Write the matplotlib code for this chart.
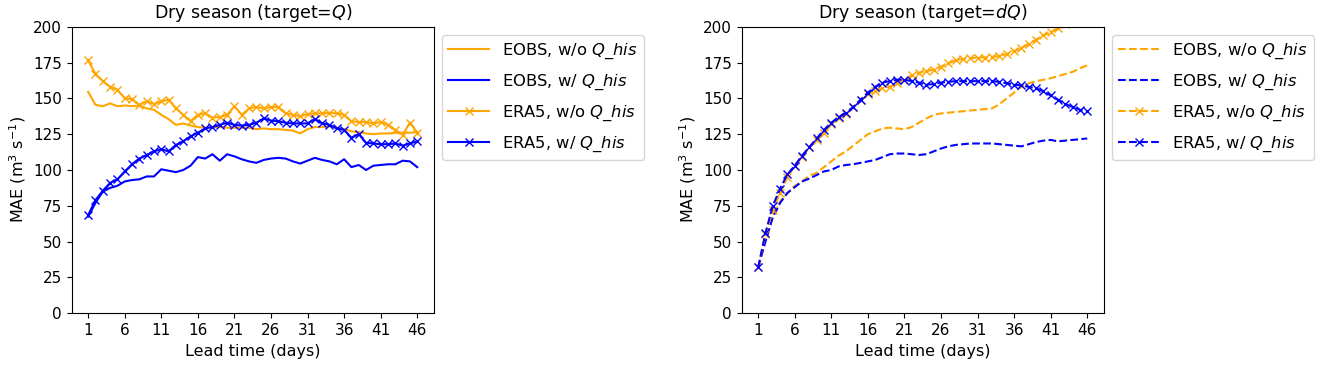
import numpy as np
import matplotlib
matplotlib.use("Agg")
import matplotlib.pyplot as plt

days = np.arange(1, 47)

# left panel: target = Q
q_eobs_wo = [154.5, 145.5, 144.5, 146.5, 144.5, 145, 144.5, 145, 143, 142,
             138.5, 135.5, 131.5, 132.5, 131, 130, 129.5, 130, 130, 129.5,
             129.5, 129.5, 129.5, 128.5, 129, 128.5, 128.5, 128, 127.5, 125.5,
             128.5, 130, 130, 130.5, 129.5, 128.5, 127, 126.5, 125.5, 125,
             125.5, 125.5, 126, 126, 126, 126.5]
q_eobs_w = [67.5, 77, 85, 87.5, 89, 92, 93, 93.5, 95.5, 95.5,
            100.5, 99.5, 98.5, 100, 103, 109, 108, 111, 106.5, 111,
            109.5, 107.5, 106, 105, 107, 108, 108.5, 108, 106, 104.5,
            106.5, 108.5, 107, 106, 104, 107.5, 102, 103.5, 100, 103,
            103.5, 104, 104, 106.5, 106, 102]
q_era5_wo = [176.5, 167, 162, 158, 156, 150, 149.5, 145.5, 148, 146,
             148, 149, 143, 138.5, 134, 138.5, 139.5, 136.5, 137, 138.5,
             144.5, 138.5, 143, 144, 143, 144, 144, 139.5, 138.5, 137.5,
             139, 139.5, 139.5, 140, 139.5, 138.5, 134, 133.5, 133.5, 132.5,
             133.5, 131.5, 128, 124.5, 133, 126]
q_era5_w = [68.5, 79, 85.5, 91, 93.5, 99, 104, 108, 110.5, 113,
            114.5, 113, 117.5, 120, 123.5, 126, 129, 130, 131.5, 133,
            131.5, 131, 131.5, 133, 136, 134.5, 134, 133, 132.5, 132.5,
            132.5, 135.5, 132.5, 131.5, 129, 128, 122.5, 125, 119, 118.5,
            118, 118, 118.5, 117, 118.5, 120]

# right panel: target = dQ
dq_eobs_wo = [32, 51, 68, 78, 84, 89, 92, 96, 98, 102,
              106, 110, 113, 117, 121, 125, 127, 129, 129.5, 129,
              128.5, 130, 133, 136, 138.5, 139.5, 140, 140.5, 141, 141.5,
              142, 142.5, 143, 146, 150, 154, 158, 160.5, 162, 163,
              164, 165.5, 167, 168.5, 171, 173]
dq_eobs_w = [32, 50, 67, 77, 84, 88, 92, 94, 96.5, 99,
             100, 102.5, 103.5, 104, 105, 106, 107, 109, 111, 111.5,
             111.5, 111, 110.5, 111, 113, 115, 116.5, 117.5, 118, 118.5,
             118.5, 118.5, 118.5, 118, 117.5, 117, 116.5, 118, 119.5, 120.5,
             121, 120, 120.5, 121, 121.5, 122]
dq_era5_wo = [32, 55, 72, 84, 95, 103, 109, 116, 121, 126,
              132, 136, 139, 144, 149, 153, 155, 157, 158, 161,
              163, 166, 168, 169, 170, 172, 174.5, 176.5, 177.5, 178,
              178.5, 178.5, 179, 179.5, 181, 183, 185, 188, 191, 194,
              196, 199, 202, 205, 208, 211]
dq_era5_w = [32, 56, 75, 87, 97, 103, 110, 116, 122, 128,
             133, 137, 140, 144, 149, 154, 158, 161, 162, 163,
             163, 162, 161, 159.5, 160, 161, 161.5, 162, 162, 162,
             162, 162, 162, 161.5, 160.5, 159.5, 159, 158, 157, 155,
             152, 149, 146, 144, 142, 141]

his = r'$Q\_his$'
labels = ['EOBS, w/o ' + his, 'EOBS, w/ ' + his, 'ERA5, w/o ' + his, 'ERA5, w/ ' + his]
xticks = np.arange(1, 47, 5)
yticks = np.arange(0, 201, 25)

fig = plt.figure(figsize=(13.25, 3.66), dpi=100)
W, H = 1325, 366
ax1 = fig.add_axes([71.7 / W, (H - 313.3) / H, 362 / W, 286.6 / H])
ax2 = fig.add_axes([741.7 / W, (H - 313.3) / H, 362 / W, 286.6 / H])

panels = [
    (ax1, '-', [q_eobs_wo, q_eobs_w, q_era5_wo, q_era5_w], r'Dry season (target=$Q$)'),
    (ax2, '--', [dq_eobs_wo, dq_eobs_w, dq_era5_wo, dq_era5_w], r'Dry season (target=$dQ$)'),
]

for ax, ls, series, title in panels:
    cols = ['orange', 'blue', 'orange', 'blue']
    marks = [None, None, 'x', 'x']
    for s, c, m, lab in zip(series, cols, marks, labels):
        ax.plot(days, s, ls, color=c, marker=m, markersize=6, lw=1.5, label=lab)
    ax.set_ylim(0, 200)
    ax.set_xticks(xticks)
    ax.set_yticks(yticks)
    ax.tick_params(labelsize=11)
    ax.set_xlabel('Lead time (days)', fontsize=11.5)
    ax.set_ylabel(r'MAE (m$^3$ s$^{-1}$)', fontsize=11.5)
    ax.set_title(title, fontsize=12.5)
    ax.legend(loc='upper left', bbox_to_anchor=(1.022, 0.97), borderaxespad=0,
              fontsize=11.8, handlelength=2.5, labelspacing=0.7)

fig.savefig('out.png', dpi=100)
